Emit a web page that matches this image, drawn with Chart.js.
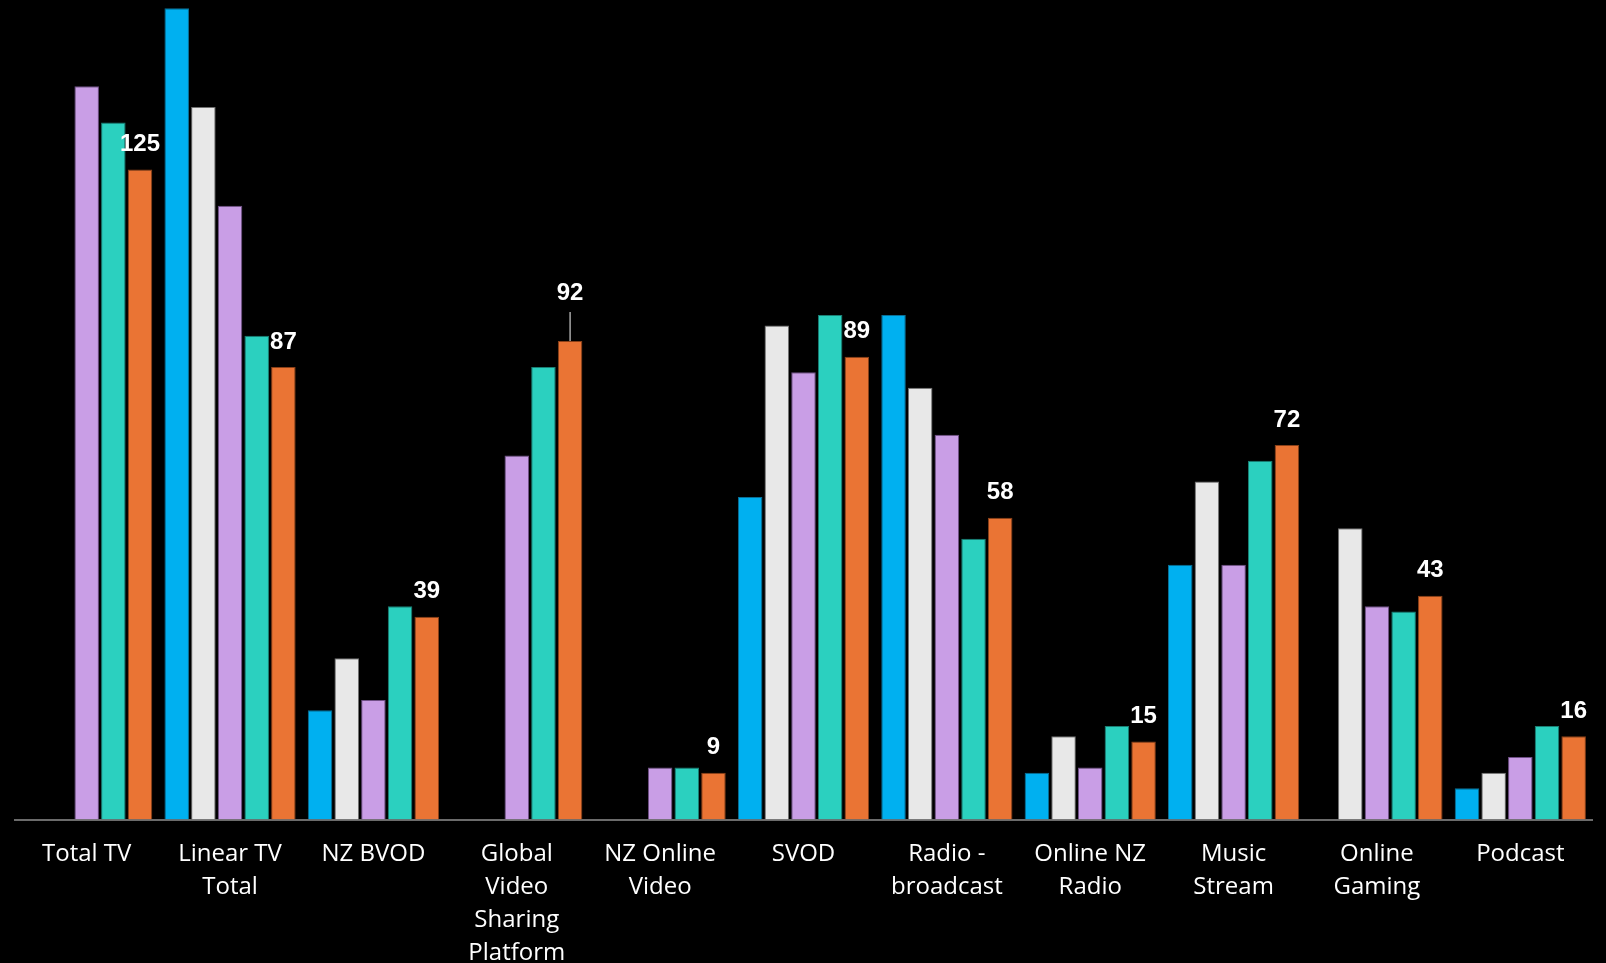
<!DOCTYPE html>
<html>
<head>
<meta charset="utf-8">
<script src="https://cdn.jsdelivr.net/npm/chart.js@4.4.1/dist/chart.umd.min.js"></script>
<style>
  html, body { margin: 0; padding: 0; background: #000; }
  #wrap { width: 1606px; height: 963px; position: relative; }
</style>
</head>
<body>
<div id="wrap"><canvas id="c"></canvas></div>
<script>
const categories = [
  ["Total TV"],
  ["Linear TV", "Total"],
  ["NZ BVOD"],
  ["Global", "Video", "Sharing", "Platform"],
  ["NZ Online", "Video"],
  ["SVOD"],
  ["Radio -", "broadcast"],
  ["Online NZ", "Radio"],
  ["Music", "Stream"],
  ["Online", "Gaming"],
  ["Podcast"]
];
const seriesBlue     = [null, 156, 21, null, null, 62, 97, 9, 49, null, 6];
const seriesGrey     = [null, 137, 31, null, null, 95, 83, 16, 65, 56, 9];
const seriesLavender = [141, 118, 23, 70, 10, 86, 74, 10, 49, 41, 12];
const seriesTeal     = [134, 93, 41, 87, 10, 97, 54, 18, 69, 40, 18];
const seriesOrange   = [125, 87, 39, 92, 9, 89, 58, 15, 72, 43, 16];
const yMax = 157;

const labelPlugin = {
  id: 'orangeLabels',
  afterDatasetsDraw(chart) {
    const ctx = chart.ctx;
    const meta = chart.getDatasetMeta(4);
    ctx.save();
    ctx.fillStyle = '#ffffff';
    ctx.font = 'bold 24px "Liberation Sans", Arial, sans-serif';
    ctx.textAlign = 'center';
    ctx.textBaseline = 'middle';
    meta.data.forEach((bar, i) => {
      const v = seriesOrange[i];
      if (v == null) return;
      if (i === 3) {
        ctx.strokeStyle = '#a6a6a6';
        ctx.lineWidth = 1.5;
        ctx.beginPath();
        ctx.moveTo(bar.x, bar.y - 29);
        ctx.lineTo(bar.x, bar.y);
        ctx.stroke();
        ctx.fillText(String(v), bar.x, bar.y - 48);
      } else {
        ctx.fillText(String(v), bar.x, bar.y - 25);
      }
    });
    ctx.restore();
  }
};

function ds(data, color, border) {
  return {
    data: data,
    backgroundColor: color,
    borderColor: border,
    borderWidth: 1,
    categoryPercentage: 0.93,
    barPercentage: 0.92
  };
}

new Chart(document.getElementById('c'), {
  type: 'bar',
  data: {
    labels: categories,
    datasets: [
      ds(seriesBlue, '#00B0F0', '#0a6f96'),
      ds(seriesGrey, '#E8E8E8', '#707070'),
      ds(seriesLavender, '#C99EE6', '#6f4f86'),
      ds(seriesTeal, '#2BD0BF', '#1a7f74'),
      ds(seriesOrange, '#EA7434', '#8a4018')
    ]
  },
  options: {
    responsive: true,
    maintainAspectRatio: false,
    animation: false,
    layout: { padding: { left: 15, right: 14, top: 3, bottom: 0 } },
    plugins: {
      legend: { display: false },
      tooltip: { enabled: false }
    },
    scales: {
      x: {
        grid: { display: false, drawTicks: false },
        border: { display: true, color: '#6b6b6b', width: 2 },
        ticks: {
          color: '#ffffff',
          font: { family: '"Open Sans", sans-serif', size: 24, lineHeight: 1.38 },
          padding: 18,
          maxRotation: 0,
          autoSkip: false
        },
        afterFit(scale) { scale.height = 143.5; }
      },
      y: {
        display: false,
        min: 0,
        max: yMax
      }
    }
  },
  plugins: [labelPlugin]
});
</script>
</body>
</html>
